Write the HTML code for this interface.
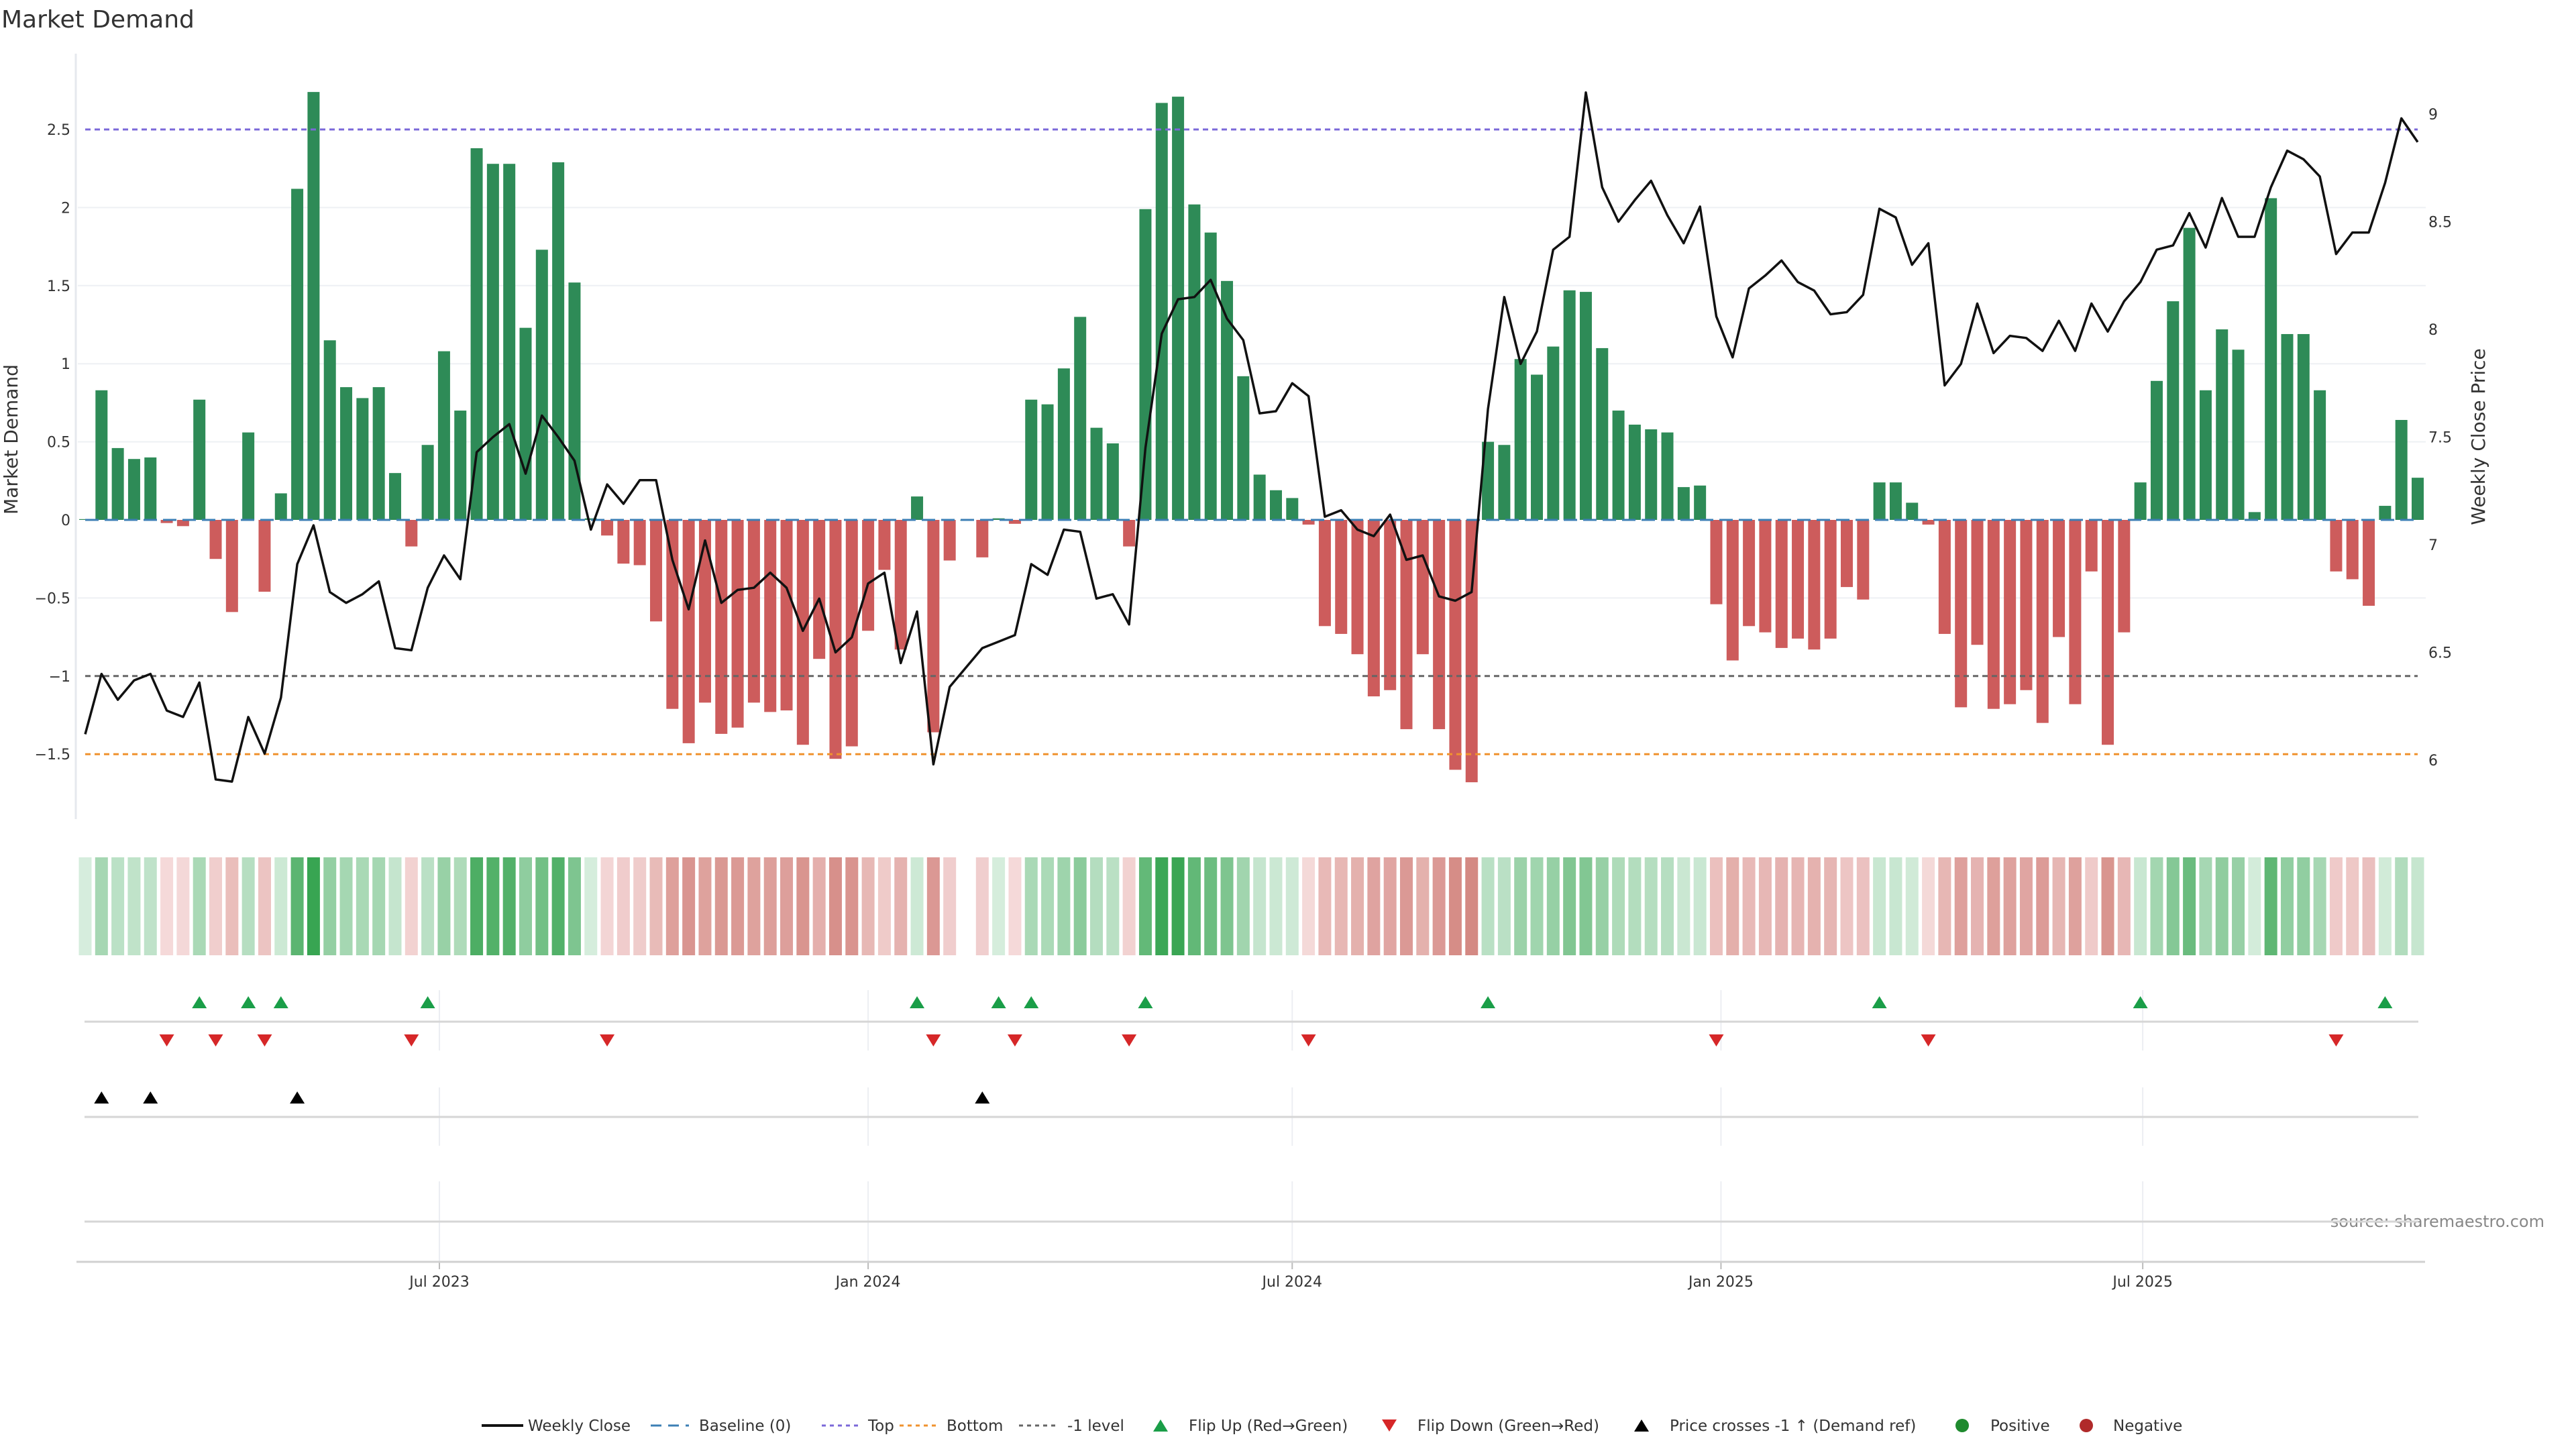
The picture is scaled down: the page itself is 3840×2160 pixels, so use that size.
<!DOCTYPE html>
<html><head><meta charset="utf-8"><title>Market Demand</title>
<style>html,body{margin:0;padding:0;background:#fff}svg{display:block}text{font-family:"DejaVu Sans","Liberation Sans",sans-serif}</style>
</head><body>
<svg id="chart" width="3840" height="2160" viewBox="0 0 3840 2160" xmlns="http://www.w3.org/2000/svg">
<text x="2" y="41" font-size="36" fill="#333">Market Demand</text>
<text transform="translate(26,655) rotate(-90)" text-anchor="middle" font-size="28" fill="#333">Market Demand</text>
<text transform="translate(3704,651) rotate(-90)" text-anchor="middle" font-size="28" fill="#333">Weekly Close Price</text>
<text x="3793" y="1829" text-anchor="end" font-size="24" fill="#888">source: sharemaestro.com</text>
<g id="grid"></g><g id="refs"></g><g id="bars"></g><g id="line"></g><g id="heat"></g><g id="markers"></g><g id="axes"></g><g id="legend"></g>
</svg>
<script>
const demand = [0.005,0.83,0.46,0.39,0.40,-0.02,-0.04,0.77,-0.25,-0.59,0.56,-0.46,0.17,2.12,2.74,1.15,0.85,0.78,0.85,0.30,-0.17,0.48,1.08,0.70,2.38,2.28,2.28,1.23,1.73,2.29,1.52,0.01,-0.10,-0.28,-0.29,-0.65,-1.21,-1.43,-1.17,-1.37,-1.33,-1.17,-1.23,-1.22,-1.44,-0.89,-1.53,-1.45,-0.71,-0.32,-0.83,0.15,-1.36,-0.26,0,-0.24,0.01,-0.025,0.77,0.74,0.97,1.30,0.59,0.49,-0.17,1.99,2.67,2.71,2.02,1.84,1.53,0.92,0.29,0.19,0.14,-0.03,-0.68,-0.73,-0.86,-1.13,-1.09,-1.34,-0.86,-1.34,-1.60,-1.68,0.50,0.48,1.03,0.93,1.11,1.47,1.46,1.10,0.70,0.61,0.58,0.56,0.21,0.22,-0.54,-0.90,-0.68,-0.72,-0.82,-0.76,-0.83,-0.76,-0.43,-0.51,0.24,0.24,0.11,-0.03,-0.73,-1.20,-0.80,-1.21,-1.18,-1.09,-1.30,-0.75,-1.18,-0.33,-1.44,-0.72,0.24,0.89,1.40,1.87,0.83,1.22,1.09,0.05,2.06,1.19,1.19,0.83,-0.33,-0.38,-0.55,0.09,0.64,0.27];
const price = [6.12,6.40,6.28,6.37,6.40,6.23,6.20,6.36,5.91,5.90,6.20,6.03,6.29,6.91,7.09,6.78,6.73,6.77,6.83,6.52,6.51,6.80,6.95,6.84,7.43,7.50,7.56,7.33,7.60,7.50,7.39,7.07,7.28,7.19,7.30,7.30,6.93,6.70,7.02,6.73,6.79,6.80,6.87,6.80,6.60,6.75,6.50,6.57,6.82,6.87,6.45,6.69,5.98,6.34,6.43,6.52,6.55,6.58,6.91,6.86,7.07,7.06,6.75,6.77,6.63,7.45,7.98,8.14,8.15,8.23,8.05,7.95,7.61,7.62,7.75,7.69,7.13,7.16,7.07,7.04,7.14,6.93,6.95,6.76,6.74,6.78,7.63,8.15,7.84,7.99,8.37,8.43,9.10,8.66,8.50,8.60,8.69,8.53,8.40,8.57,8.06,7.87,8.19,8.25,8.32,8.22,8.18,8.07,8.08,8.16,8.56,8.52,8.30,8.40,7.74,7.84,8.12,7.89,7.97,7.96,7.90,8.04,7.90,8.12,7.99,8.13,8.22,8.37,8.39,8.54,8.38,8.61,8.43,8.43,8.66,8.83,8.79,8.71,8.35,8.45,8.45,8.68,8.98,8.87];
const flipUp = [7,10,12,21,51,56,58,65,86,110,126,141];
const flipDown = [5,8,11,20,32,52,57,64,75,100,113,138];
const priceCross = [1,4,13,55];
const startDate = "2023-01-30";
const tickDates = ["2023-07-01","2024-01-01","2024-07-01","2025-01-01","2025-07-01"];
const tickLabels = ["Jul 2023","Jan 2024","Jul 2024","Jan 2025","Jul 2025"];
const leftTicks = [2.5,2,1.5,1,0.5,0,-0.5,-1,-1.5];
const rightTicks = [9,8.5,8,7.5,7,6.5,6];
const topLevel = 2.5, bottomLevel = -1.5, minusLevel = -1;

const NS = "http://www.w3.org/2000/svg";
const X0 = 127, X1 = 3604;
const step = (X1 - X0) / (demand.length - 1);
const xi = i => X0 + i * step;
const yL = v => 775 - v * 232.8;
const yR = p => 170 + (9 - p) * 321;
function mk(tag, attrs, parent) {
  const e = document.createElementNS(NS, tag);
  for (const k in attrs) e.setAttribute(k, attrs[k]);
  document.getElementById(parent).appendChild(e);
  return e;
}
const fmt = v => (v < 0 ? "\u2212" + Math.abs(v) : String(v));

leftTicks.forEach(v => {
  if (v !== 0 && v !== 2.5 && v !== -1 && v !== -1.5) {
    const g = mk("line", {x1: 116, x2: 3616, y1: yL(v), y2: yL(v), stroke: "#eef0f4", "stroke-width": 2}, "grid");
    
    
  }
  const t = mk("text", {x: 105, y: yL(v) + 8, "text-anchor": "end", "font-size": 22, fill: "#333"}, "axes");
  t.textContent = fmt(v);
  
  
});
rightTicks.forEach(p => {
  const t = mk("text", {x: 3620, y: yR(p) + 8, "font-size": 22, fill: "#333"}, "axes");
  t.textContent = String(p);
  
  
});
const ax = mk("line", {x1: 113, x2: 113, y1: 80, y2: 1221, stroke: "#e6e8ee", "stroke-width": 3}, "axes");



[[topLevel, "#7b68d9", "top-line"], [minusLevel, "#666", "minus-one-line"], [bottomLevel, "#f0922e", "bottom-line"]].forEach(r => {
  const l = mk("line", {x1: X0, x2: X1, y1: yL(r[0]), y2: yL(r[0]), stroke: r[1], "stroke-width": 3, "stroke-dasharray": "8 6"}, "refs");
  
  
});

demand.forEach((v, i) => {
  const y0 = yL(0), y1 = yL(v);
  const b = mk("rect", {x: xi(i) - 9, y: Math.min(y0, y1), width: 18, height: Math.max(Math.abs(y1 - y0), 0.5), fill: v >= 0 ? "#2e8b57" : "#cd5c5c"}, "bars");
  
  
});
const base = mk("line", {x1: X0, x2: X1, y1: yL(0), y2: yL(0), stroke: "#3d7fb5", "stroke-width": 3, "stroke-dasharray": "20 9"}, "refs");


document.getElementById("bars").after(document.getElementById("refs"));

const pl = mk("polyline", {points: price.map((p, i) => xi(i).toFixed(1) + "," + yR(p).toFixed(1)).join(" "), fill: "none", stroke: "#111", "stroke-width": 3.5, "stroke-linejoin": "round"}, "line");



function mix(a, b, t) { return "rgb(" + a.map((c, k) => Math.round(c + (b[k] - c) * t)).join(",") + ")"; }
demand.forEach((v, i) => {
  if (v === 0) return;
  const c = v > 0 ? mix([214, 237, 221], [56, 165, 82], Math.min(v / 2.74, 1)) : mix([245, 218, 218], [212, 136, 130], Math.min(-v / 1.7, 1));
  const h = mk("rect", {x: xi(i) - 9.5, y: 1278, width: 19, height: 146, fill: c}, "heat");
  
  
});

const msDay = 86400000, sd = Date.parse(startDate);
tickDates.forEach((d, k) => {
  const x = xi((Date.parse(d) - sd) / msDay / 7);
  [[1476, 1566], [1621, 1708], [1761, 1881]].forEach(s => {
    const g = mk("line", {x1: x, x2: x, y1: s[0], y2: s[1], stroke: "#eceef2", "stroke-width": 2}, "grid");
    
    
  });
  const tk = mk("line", {x1: x, x2: x, y1: 1881, y2: 1892, stroke: "#bbb", "stroke-width": 2}, "axes");
  
  
  const t = mk("text", {x: x, y: 1918, "text-anchor": "middle", "font-size": 22, fill: "#333"}, "axes");
  t.textContent = tickLabels[k];
  
  
});
[[1523, "#d6d6d6"], [1665, "#d6d6d6"], [1821, "#d6d6d6"], [1881, "#d0d0d0"]].forEach((s, k) => {
  const l = mk("line", {x1: k === 3 ? 114 : 126, x2: k === 3 ? 3615 : 3605, y1: s[0], y2: s[0], stroke: s[1], "stroke-width": 3}, "axes");
  
  
});

function tri(x, y, up, color, parent) {
  const pts = up ? [[x - 11, y + 9], [x + 11, y + 9], [x, y - 9]] : [[x - 11, y - 9], [x + 11, y - 9], [x, y + 9]];
  return mk("polygon", {points: pts.map(p => p.join(",")).join(" "), fill: color}, parent);
}
flipUp.forEach(i => {
  const m = tri(xi(i), 1494, true, "#1a9e48", "markers");
  
  
});
flipDown.forEach(i => {
  const m = tri(xi(i), 1551, false, "#d62728", "markers");
  
  
});
priceCross.forEach(i => {
  const m = tri(xi(i), 1636, true, "#000", "markers");
  
  
});

const LY = 2125, LX = -7;
function ltext(x, s) {
  const t = mk("text", {x: x + LX, y: LY + 8, "font-size": 23, fill: "#333"}, "legend");
  t.textContent = s;
  
  
}
function lline(x1, x2, color, dash, w) {
  const l = mk("line", {x1: x1 + LX, x2: x2 + LX, y1: LY, y2: LY, stroke: color, "stroke-width": w, "stroke-dasharray": dash}, "legend");
  
  
}
lline(725, 787, "#111", "none", 4); ltext(794, "Weekly Close");
lline(977, 1034, "#3d7fb5", "16 10", 3); ltext(1049, "Baseline (0)");
lline(1232, 1287, "#7b68d9", "6 6", 3); ltext(1301, "Top");
lline(1348, 1403, "#f0922e", "6 6", 3); ltext(1418, "Bottom");
lline(1526, 1583, "#666", "6 6", 3); ltext(1598, "-1 level");
let m1 = tri(1737 + LX, LY, true, "#1a9e48", "legend");


ltext(1779, "Flip Up (Red\u2192Green)");
let m2 = tri(2078 + LX, LY, false, "#d62728", "legend");


ltext(2120, "Flip Down (Green\u2192Red)");
let m3 = tri(2454 + LX, LY, true, "#000", "legend");


ltext(2496, "Price crosses -1 \u2191 (Demand ref)");
let c1 = mk("circle", {cx: 2932 + LX, cy: LY, r: 10, fill: "#1e8a2e"}, "legend");


ltext(2974, "Positive");
let c2 = mk("circle", {cx: 3117 + LX, cy: LY, r: 10, fill: "#b02a2a"}, "legend");


ltext(3157, "Negative");
</script>
</body></html>
